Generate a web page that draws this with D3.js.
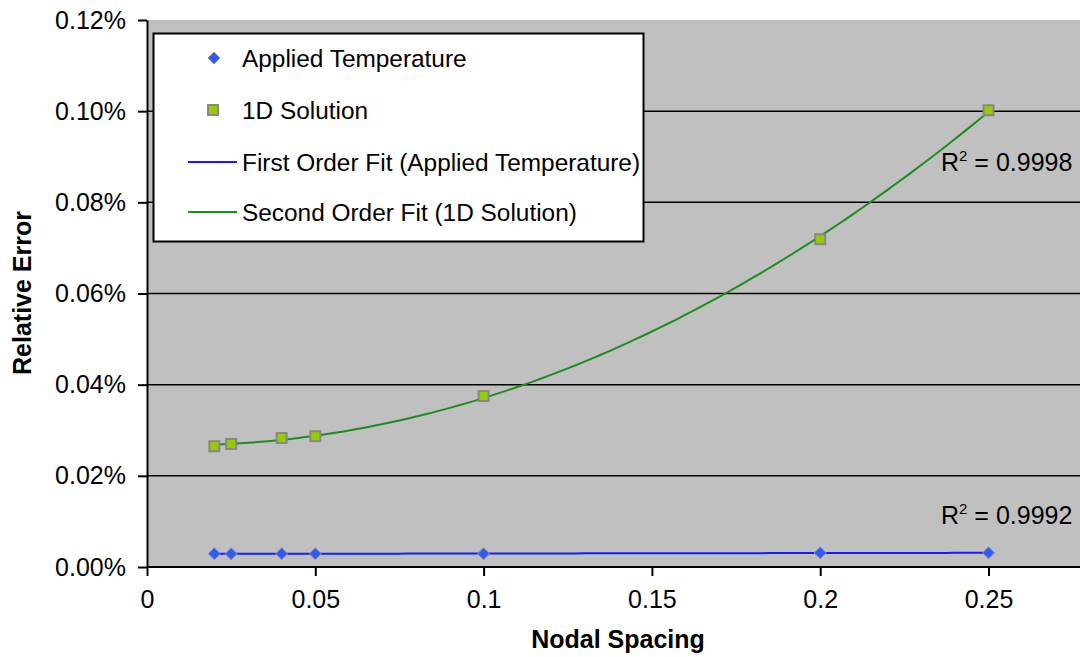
<!DOCTYPE html>
<html lang="en">
<head>
<meta charset="utf-8">
<script src="https://d3js.org/d3.v7.min.js"></script>
<style>
  body { margin: 0; background: #fff; }
  svg text { font-family: "Liberation Sans", Arial, sans-serif; fill: #000; }
</style>
</head>
<body>
<script>
// nodal spacing values (x) shared by both series
var spacing = [0.02, 0.025, 0.04, 0.05, 0.1, 0.2, 0.25];
// relative error, in percent
var appliedTemp = [0.0029, 0.0029, 0.0029, 0.0029, 0.0029, 0.0031, 0.0031];
var oneDSolution = [0.0265, 0.0270, 0.0283, 0.0287, 0.0375, 0.0719, 0.1002];
var xTicks = [0, 0.05, 0.1, 0.15, 0.2, 0.25];
var yTicks = [0, 0.02, 0.04, 0.06, 0.08, 0.10, 0.12];
var legendItems = ["Applied Temperature", "1D Solution",
                   "First Order Fit (Applied Temperature)", "Second Order Fit (1D Solution)"];
var r2Labels = ["0.9998", "0.9992"];

var width = 1080, height = 657;
var plotLeft = 147, plotTop = 20, plotBottom = 567;
var fontSize = 25;

var svg = d3.select("body").append("svg")
    .attr("width", width)
    .attr("height", height);

var x = d3.scaleLinear().domain([0, 0.3]).range([plotLeft, plotLeft + 6 * 168.3]);
var y = d3.scaleLinear().domain([0, 0.12]).range([plotBottom, plotTop]);

// plot area
svg.append("rect")
    .attr("x", plotLeft).attr("y", plotTop)
    .attr("width", width - plotLeft).attr("height", plotBottom - plotTop)
    .attr("fill", "#c0c0c0");

// gridlines
svg.selectAll(".grid")
    .data(yTicks.filter(function(d){ return d > 0 && d < 0.12; }))
    .enter().append("line")
    .attr("x1", plotLeft).attr("x2", width)
    .attr("y1", function(d){ return y(d); })
    .attr("y2", function(d){ return y(d); })
    .attr("stroke", "#000").attr("stroke-width", 1.5);

// axes
var yAxis = d3.axisLeft(y).tickValues(yTicks)
    .tickFormat(function(d){ return d.toFixed(2) + "%"; })
    .tickSizeInner(9).tickSizeOuter(0).tickPadding(12);
var gy = svg.append("g").attr("transform", "translate(" + plotLeft + ",0)").call(yAxis);

var xAxis = d3.axisBottom(x).tickValues(xTicks)
    .tickFormat(function(d){ return d === 0 ? "0" : String(d); })
    .tickSizeInner(9).tickSizeOuter(0).tickPadding(14);
var gx = svg.append("g").attr("transform", "translate(0," + plotBottom + ")").call(xAxis);
gx.select(".domain").attr("d", "M" + plotLeft + ",0H" + width);

[gx, gy].forEach(function(g){
    g.selectAll("path, line").attr("stroke", "#000").attr("stroke-width", 2);
    g.selectAll("text").attr("font-size", fontSize).attr("font-family", "Liberation Sans, Arial, sans-serif").attr("fill", "#000");
});

// least squares polynomial fit (trendlines)
function polyFit(xs, ys, order) {
    var n = order + 1, A = [], b = [];
    for (var i = 0; i < n; i++) {
        A.push([]);
        for (var j = 0; j < n; j++) A[i].push(d3.sum(xs, function(v){ return Math.pow(v, i + j); }));
        b.push(d3.sum(xs, function(v, k){ return Math.pow(v, i) * ys[k]; }));
    }
    for (var c = 0; c < n; c++) {
        for (var r = c + 1; r < n; r++) {
            var f = A[r][c] / A[c][c];
            for (var k = c; k < n; k++) A[r][k] -= f * A[c][k];
            b[r] -= f * b[c];
        }
    }
    var coef = new Array(n).fill(0);
    for (var r2 = n - 1; r2 >= 0; r2--) {
        var s = b[r2];
        for (var k2 = r2 + 1; k2 < n; k2++) s -= A[r2][k2] * coef[k2];
        coef[r2] = s / A[r2][r2];
    }
    return function(v){ return coef.reduce(function(acc, cc, p){ return acc + cc * Math.pow(v, p); }, 0); };
}

var fit1 = polyFit(spacing, appliedTemp, 1);
var fit2 = polyFit(spacing, oneDSolution, 2);
var xs = d3.range(spacing[0], spacing[spacing.length - 1] + 1e-9, 0.0025);

var line = d3.line().x(function(d){ return x(d[0]); }).y(function(d){ return y(d[1]); });

svg.append("path")
    .datum(xs.map(function(v){ return [v, fit1(v)]; }))
    .attr("d", line).attr("fill", "none")
    .attr("stroke", "#1a1aff").attr("stroke-width", 2);

svg.append("path")
    .datum(xs.map(function(v){ return [v, fit2(v)]; }))
    .attr("d", line).attr("fill", "none")
    .attr("stroke", "#1e8c1e").attr("stroke-width", 2);

var diamond = "M0,-6L6,0L0,6L-6,0Z";

svg.selectAll(".temp")
    .data(spacing.map(function(v, i){ return [v, appliedTemp[i]]; }))
    .enter().append("path")
    .attr("d", diamond)
    .attr("transform", function(d){ return "translate(" + x(d[0]) + "," + y(d[1]) + ")"; })
    .attr("fill", "#2f5cf5").attr("stroke", "#8a8fb0").attr("stroke-width", 1);

svg.selectAll(".sol")
    .data(spacing.map(function(v, i){ return [v, oneDSolution[i]]; }))
    .enter().append("rect")
    .attr("x", function(d){ return x(d[0]) - 5; })
    .attr("y", function(d){ return y(d[1]) - 5; })
    .attr("width", 10).attr("height", 10)
    .attr("fill", "#99cc00").attr("stroke", "#888").attr("stroke-width", 2);

// R squared labels
svg.selectAll(".r2")
    .data(r2Labels)
    .enter().append("text")
    .attr("x", 941)
    .attr("y", function(d, i){ return i === 0 ? 171 : 524; })
    .attr("font-size", fontSize)
    .each(function(d){
        var t = d3.select(this);
        t.append("tspan").text("R");
        t.append("tspan").attr("font-size", 15).attr("dy", -10).text("2");
        t.append("tspan").attr("dy", 10).text(" = " + d);
    });

// legend
var lg = svg.append("g");
lg.append("rect")
    .attr("x", 153.5).attr("y", 33.5).attr("width", 490).attr("height", 208)
    .attr("fill", "#fff").attr("stroke", "#000").attr("stroke-width", 2);

var rowY = [58, 110, 162, 212];
legendItems.forEach(function(name, i){
    var yy = rowY[i];
    if (i === 0) {
        lg.append("path").attr("d", diamond)
          .attr("transform", "translate(214," + yy + ")")
          .attr("fill", "#2f5cf5").attr("stroke", "#8a8fb0");
    } else if (i === 1) {
        lg.append("rect").attr("x", 208).attr("y", yy - 5).attr("width", 10).attr("height", 10)
          .attr("fill", "#99cc00").attr("stroke", "#888").attr("stroke-width", 2);
    } else {
        lg.append("line").attr("x1", 188).attr("x2", 237).attr("y1", yy).attr("y2", yy)
          .attr("stroke", i === 2 ? "#1a1aff" : "#1e8c1e").attr("stroke-width", 2);
    }
    lg.append("text").attr("x", 242).attr("y", yy + 9).attr("font-size", 24.4).text(name);
});

// axis titles
svg.append("text")
    .attr("x", 618).attr("y", 648)
    .attr("text-anchor", "middle").attr("font-size", fontSize).attr("font-weight", "bold")
    .text("Nodal Spacing");

svg.append("text")
    .attr("transform", "translate(31,293) rotate(-90)")
    .attr("text-anchor", "middle").attr("font-size", fontSize).attr("font-weight", "bold")
    .text("Relative Error");
</script>
</body>
</html>
